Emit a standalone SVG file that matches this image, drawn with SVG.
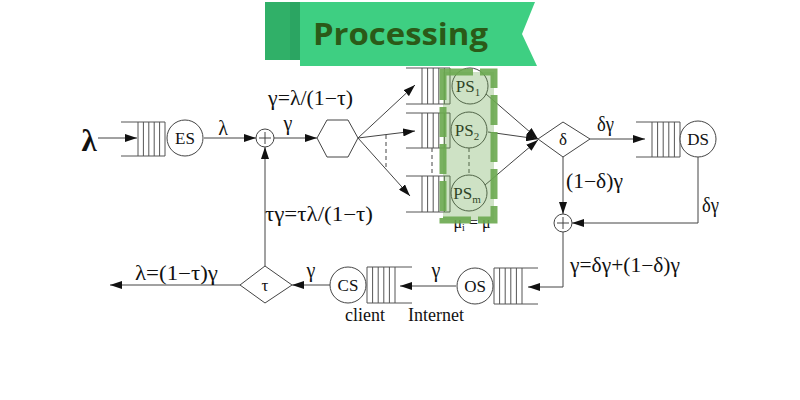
<svg xmlns="http://www.w3.org/2000/svg" width="800" height="400" viewBox="0 0 800 400">
<defs>
<marker id="ah" markerUnits="userSpaceOnUse" markerWidth="13" markerHeight="8" refX="12" refY="4" orient="auto">
<path d="M0,0 L12,4 L0,8 z" fill="#111"/>
</marker>
<style>
.ln{stroke:#444;stroke-width:1;fill:none}
.ar{stroke:#444;stroke-width:1;fill:none;marker-end:url(#ah)}
.dash{stroke:#444;stroke-width:1;fill:none;stroke-dasharray:4 3}
.q{stroke:#555;stroke-width:1;fill:none}
.nd{stroke:#444;stroke-width:1;fill:#fff}
.t{font-family:"Liberation Serif","Times New Roman",serif;fill:#111}
.c{text-anchor:middle}
.lab{font-size:18px}
.fm{font-size:20px}
.nl{font-size:17px}
</style>
</defs>
<rect width="800" height="400" fill="#fff"/>

<g id="connectors">
<line class="ar" x1="98" y1="138" x2="137" y2="138"/>
<line class="ar" x1="204" y1="138" x2="256" y2="138"/>
<line class="ar" x1="274" y1="138" x2="317" y2="138"/>
<line class="ar" x1="358" y1="138" x2="415" y2="85"/>
<line class="ar" x1="358" y1="138" x2="415" y2="131"/>
<line class="ar" x1="358" y1="138" x2="410" y2="196"/>
<line class="dash" x1="386" y1="135" x2="386" y2="168"/>
<line class="dash" x1="432" y1="148" x2="432" y2="176"/>
<line class="dash" x1="469" y1="148" x2="469" y2="174"/>
<line class="ar" x1="486" y1="94" x2="538" y2="139"/>
<line class="ar" x1="488" y1="132" x2="538" y2="139"/>
<line class="ar" x1="485" y1="185" x2="538" y2="140"/>
<line class="ar" x1="590" y1="139" x2="645" y2="139"/>
<line class="ar" x1="563" y1="157" x2="563" y2="214"/>
<polyline class="ar" points="698,157 698,223 572,223"/>
<polyline class="ar" points="563,232 563,287 528,287"/>
<line class="ar" x1="456" y1="286" x2="400" y2="286"/>
<line class="ar" x1="330" y1="285" x2="292" y2="285"/>
<line class="ar" x1="240" y1="285" x2="110" y2="285"/>
<line class="ar" x1="265" y1="266" x2="265" y2="147"/>
</g>

<g id="labels">
<text class="t c" x="89" y="151" font-size="31" font-weight="bold">λ</text>
<text class="t c fm" x="223" y="135">λ</text>
<text class="t c fm" x="288" y="130">γ</text>
<text class="t fm" x="268" y="105" textLength="85" lengthAdjust="spacingAndGlyphs">γ=λ/(1−τ)</text>
<text class="t fm" x="597" y="131" textLength="17" lengthAdjust="spacingAndGlyphs">δγ</text>
<text class="t fm" x="566" y="188" textLength="57" lengthAdjust="spacingAndGlyphs">(1−δ)γ</text>
<text class="t fm" x="702" y="212" textLength="17" lengthAdjust="spacingAndGlyphs">δγ</text>
<text class="t fm" x="570" y="272" textLength="110" lengthAdjust="spacingAndGlyphs">γ=δγ+(1−δ)γ</text>
<text class="t c fm" x="436" y="277">γ</text>
<text class="t c fm" x="311" y="277">γ</text>
<text class="t fm" x="135" y="280" textLength="83" lengthAdjust="spacingAndGlyphs">λ=(1−τ)γ</text>
<text class="t fm" x="265" y="221" textLength="108" lengthAdjust="spacingAndGlyphs">τγ=τλ/(1−τ)</text>
<text class="t c lab" x="365" y="321">client</text>
<text class="t c lab" x="436" y="321">Internet</text>
<text class="t c" x="472" y="228" font-size="16">μ<tspan font-size="10" dy="3">i</tspan><tspan dy="-3"> = μ</tspan></text>
</g>

<g id="es">
<path class="q" d="M121,122 H165 M121,156 H165 M138,122 V156 M143.4,122 V156 M148.8,122 V156 M154.2,122 V156 M159.6,122 V156 M165,122 V156"/>
<circle class="nd" cx="185" cy="138" r="18"/>
<text class="t c nl" x="185" y="144">ES</text>
</g>

<g id="plus1">
<circle class="nd" cx="265" cy="138" r="9"/>
<path class="ln" d="M259,138 H271 M265,132 V144"/>
</g>

<g id="dispatcher">
<polygon class="nd" points="317,138 327,120 348,120 358,138 348,157 327,157"/>
</g>

<g id="ps1">
<path class="q" d="M406,68 H450 M406,104 H450 M422,68 V104 M427.6,68 V104 M433.2,68 V104 M438.8,68 V104 M444.4,68 V104 M450,68 V104"/>
<circle class="nd" cx="470" cy="86" r="18"/>
<text class="t c" x="468" y="92" font-size="17">PS<tspan font-size="11" dy="4">1</tspan></text>
</g>

<g id="ps2">
<path class="q" d="M406,113 H450 M406,148 H450 M422,113 V148 M427.6,113 V148 M433.2,113 V148 M438.8,113 V148 M444.4,113 V148 M450,113 V148"/>
<circle class="nd" cx="469" cy="130" r="18"/>
<text class="t c" x="467" y="136" font-size="17">PS<tspan font-size="11" dy="4">2</tspan></text>
</g>

<g id="psm">
<path class="q" d="M406,176 H450 M406,212 H450 M422,176 V212 M427.6,176 V212 M433.2,176 V212 M438.8,176 V212 M444.4,176 V212 M450,176 V212"/>
<circle class="nd" cx="469" cy="193" r="18"/>
<text class="t c" x="467" y="199" font-size="17">PS<tspan font-size="11" dy="4">m</tspan></text>
</g>

<g id="delta">
<polygon class="nd" points="538,139 563,122 590,139 563,157"/>
<text class="t c nl" x="563" y="145">δ</text>
</g>

<g id="ds">
<path class="q" d="M636,122 H680 M636,157 H680 M652,122 V157 M657.6,122 V157 M663.2,122 V157 M668.8,122 V157 M674.4,122 V157 M680,122 V157"/>
<circle class="nd" cx="698" cy="139" r="18"/>
<text class="t c nl" x="698" y="145">DS</text>
</g>

<g id="plus2">
<circle class="nd" cx="563" cy="223" r="9"/>
<path class="ln" d="M557,223 H569 M563,217 V229"/>
</g>

<g id="os">
<path class="q" d="M494,268 H538 M494,304 H538 M494,268 V304 M499.6,268 V304 M505.2,268 V304 M510.8,268 V304 M516.4,268 V304 M522,268 V304"/>
<circle class="nd" cx="475" cy="286" r="18"/>
<text class="t c nl" x="475" y="292">OS</text>
</g>

<g id="cs">
<path class="q" d="M367,267 H412 M367,303 H412 M367,267 V303 M372.6,267 V303 M378.2,267 V303 M383.8,267 V303 M389.4,267 V303 M395,267 V303"/>
<circle class="nd" cx="348" cy="285" r="18"/>
<text class="t c nl" x="348" y="291">CS</text>
</g>

<g id="tau">
<polygon class="nd" points="240,285 265,266 292,285 265,303"/>
<text class="t c nl" x="265" y="291">τ</text>
</g>

<g id="highlight">
<rect x="443" y="72" width="51" height="148" fill="#6aa84f" fill-opacity="0.33" stroke="#6aa84f" stroke-opacity="0.9" stroke-width="7" stroke-dasharray="30 7"/>
</g>

<g id="banner">
<rect x="265" y="2" width="25" height="58" fill="#30b068"/>
<rect x="290" y="2" width="10" height="58" fill="#2ba562"/>
<polygon points="300,2 535,2 522,34 537,66 300,66" fill="#3ecf82"/>
<text x="313" y="45" font-family="'Open Sans','Noto Sans',sans-serif" font-weight="700" font-size="31" fill="#2b5a18" textLength="175" lengthAdjust="spacingAndGlyphs">Processing</text>
</g>
</svg>
